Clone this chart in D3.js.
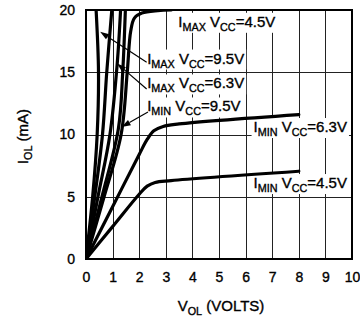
<!DOCTYPE html>
<html>
<head>
<meta charset="utf-8">
<script src="https://cdn.jsdelivr.net/npm/d3@7"></script>
<style>
  body { margin: 0; background: #fff; }
  svg { display: block; font-family: "Liberation Sans", Arial, sans-serif; }
  text { stroke: #000; stroke-width: 0.35px; }
</style>
</head>
<body>
<svg id="chart" width="360" height="322"></svg>
<script>
// tick values
const xTicks = [0, 1, 2, 3, 4, 5, 6, 7, 8, 9, 10];
const yTicks = [0, 5, 10, 15, 20];

// curves: [V_OL (volts), I_OL (mA)]
const imax95 = [[0, 0], [0.25, 5], [0.42, 10], [0.47, 15], [0.38, 20]];
const fanLine = [[0, 0], [0.33, 5], [0.62, 10], [0.78, 15], [0.97, 20]];
const imax63 = [[0, 0], [0.45, 5], [0.9, 10], [1.17, 15.6], [1.3, 20]];
const imin95 = [[0, 0], [0.6, 5], [1.22, 10.5], [1.38, 15], [1.48, 20]];
const imax45 = [[0, 0], [0.68, 5], [1.32, 10], [1.55, 15], [1.68, 18.3], [1.82, 19.35], [2.1, 19.75], [2.7, 19.95], [3.2, 20]];
const imin63 = [[0, 0], [1, 4.2], [2, 8.4], [2.3, 9.6], [2.55, 10.3], [2.9, 10.65], [3.5, 10.85], [8, 11.6]];
const imin45 = [[0, 0], [1, 2.6], [2, 5.2], [2.3, 5.85], [2.6, 6.15], [3.2, 6.3], [8, 7.05]];

// label text: [sub-scripted current, supply voltage] and where it sits (V, mA)
const labels = [
  { sub: 'MAX', vcc: '4.5V', at: [3.47, 18.65] },
  { sub: 'MAX', vcc: '9.5V', at: [2.3, 15.7] },
  { sub: 'MAX', vcc: '6.3V', at: [2.3, 13.7] },
  { sub: 'MIN', vcc: '9.5V', at: [2.3, 11.85] },
  { sub: 'MIN', vcc: '6.3V', at: [6.3, 10.2] },
  { sub: 'MIN', vcc: '4.5V', at: [6.3, 5.7] }
];
// arrows: from label (V, mA) to curve (V, mA)
const arrows = [
  [[2.28, 15.8], [0.53, 18.25]],
  [[2.28, 13.65], [1.17, 15.7]],
  [[2.33, 11.8], [1.34, 10.6]]
];

const W = 360, H = 322;
const margin = { top: 10, right: 8, bottom: 63, left: 86 };

const svg = d3.select('#chart');
const x = d3.scaleLinear().domain([0, 10]).range([margin.left, W - margin.right]);
const y = d3.scaleLinear().domain([0, 20]).range([H - margin.bottom, margin.top]);

// grid
const grid = svg.append('g').attr('stroke', '#222').attr('stroke-width', 1);
grid.selectAll('.vx').data(xTicks.slice(1, -1)).join('line')
  .attr('x1', d => Math.round(x(d)) + 0.5).attr('x2', d => Math.round(x(d)) + 0.5)
  .attr('y1', y(0)).attr('y2', y(20));
grid.selectAll('.hy').data(yTicks.slice(1, -1)).join('line')
  .attr('y1', d => Math.round(y(d)) + 0.5).attr('y2', d => Math.round(y(d)) + 0.5)
  .attr('x1', x(0)).attr('x2', x(10));

// label backgrounds go under curves, above grid
const labelBg = svg.append('g');

svg.append('defs').append('clipPath').attr('id', 'plot')
  .append('rect').attr('x', x(0)).attr('y', y(20)).attr('width', x(10) - x(0)).attr('height', y(0) - y(20));

const line = d3.line().x(d => x(d[0])).y(d => y(d[1])).curve(d3.curveCatmullRom.alpha(0.5));
svg.append('g').attr('clip-path', 'url(#plot)')
  .selectAll('path')
  .data([imax95, fanLine, imax63, imin95, imax45, imin63, imin45])
  .join('path')
  .attr('d', line)
  .attr('fill', 'none')
  .attr('stroke', '#000')
  .attr('stroke-width', 3.2)
  .attr('stroke-linecap', 'round')
  .attr('stroke-linejoin', 'round');

// frame
svg.append('rect')
  .attr('x', x(0)).attr('y', y(20))
  .attr('width', x(10) - x(0)).attr('height', y(0) - y(20))
  .attr('fill', 'none').attr('stroke', '#000').attr('stroke-width', 2);

// axes
const xAxis = svg.append('g').attr('transform', `translate(0,${y(0)})`)
  .call(d3.axisBottom(x).tickValues(xTicks).tickFormat(d3.format('d')).tickSize(0).tickPadding(13));
const yAxis = svg.append('g').attr('transform', `translate(${x(0)},0)`)
  .call(d3.axisLeft(y).tickValues(yTicks).tickFormat(d3.format('d')).tickSize(0).tickPadding(11));
[xAxis, yAxis].forEach(a => {
  a.select('.domain').remove();
  a.selectAll('text').attr('font-size', 14).attr('font-family', '"Liberation Sans", Arial, sans-serif').attr('fill', '#000');
});

// sub-scripted text helper
function richText(g, px, py, parts, size) {
  const t = g.append('text').attr('x', px).attr('y', py).attr('font-size', size).attr('fill', '#000');
  let shift = 0;
  parts.forEach(([s, sub]) => {
    const want = sub ? 4 : 0;
    t.append('tspan').attr('dy', want - shift).attr('font-size', sub ? size * 0.72 : size).text(s);
    shift = want;
  });
  return t;
}

const labelG = svg.append('g');
labels.forEach(l => {
  const t = richText(labelG, x(l.at[0]), y(l.at[1]),
    [['I', false], [l.sub, true], [' V', false], ['CC', true], ['=' + l.vcc, false]], 15);
  const b = t.node().getBBox();
  labelBg.append('rect').attr('x', b.x - 2).attr('y', b.y).attr('width', b.width + 4).attr('height', b.height)
    .attr('fill', '#fff');
});

// arrows
const arrowG = svg.append('g');
arrows.forEach(([from, to]) => {
  const x1 = x(from[0]), y1 = y(from[1]), x2 = x(to[0]), y2 = y(to[1]);
  const ang = Math.atan2(y2 - y1, x2 - x1);
  const len = 9, half = 3;
  const bx = x2 - len * Math.cos(ang), by = y2 - len * Math.sin(ang);
  arrowG.append('line').attr('x1', x1).attr('y1', y1).attr('x2', bx).attr('y2', by)
    .attr('stroke', '#000').attr('stroke-width', 1.2);
  arrowG.append('path')
    .attr('d', `M${x2},${y2}L${bx + half * Math.sin(ang)},${by - half * Math.cos(ang)}L${bx - half * Math.sin(ang)},${by + half * Math.cos(ang)}Z`)
    .attr('fill', '#000');
});

// axis titles
const xTitle = richText(svg.append('g'), 0, 311, [['V', false], ['OL', true], [' (VOLTS)', false]], 15);
const xb = xTitle.node().getBBox();
xTitle.attr('x', (x(0) + x(10)) / 2 + 2 - xb.width / 2);

const yTitleG = svg.append('g');
const yTitle = richText(yTitleG, 0, 0, [['I', false], ['OL', true], [' (mA)', false]], 15);
const yb = yTitle.node().getBBox();
yTitleG.attr('transform', `translate(28,${(y(0) + y(20)) / 2 + 2 + yb.width / 2}) rotate(-90)`);
</script>
</body>
</html>
